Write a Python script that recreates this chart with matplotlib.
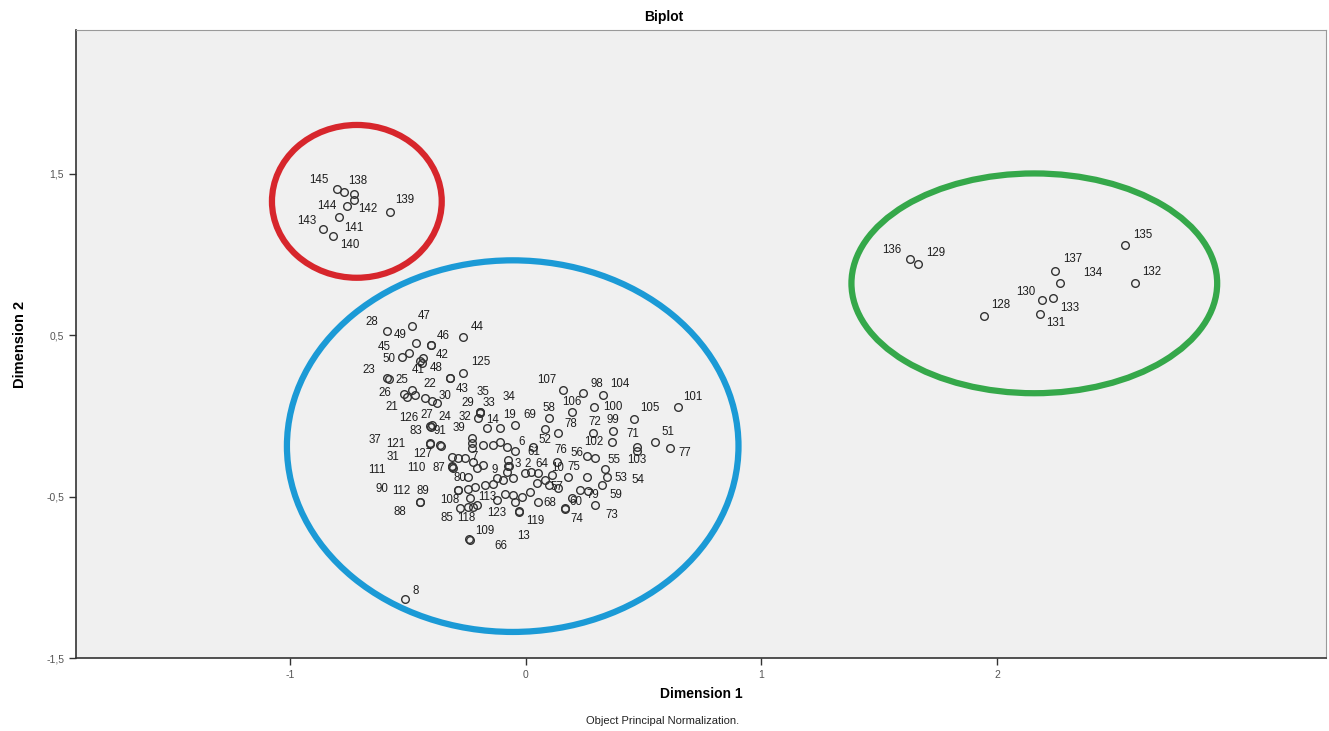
import matplotlib
matplotlib.use("Agg")
import matplotlib.pyplot as plt
from matplotlib.patches import Ellipse

plt.rcParams['font.family'] = ['Liberation Sans', 'DejaVu Sans']

# ---------------- data (object scores) ----------------
labels = [
    # red group
    "145", "138", "142", "144", "139", "141", "143", "140",
    # green group
    "136", "129", "135", "137", "134", "132", "130", "133", "128", "131",
    # blue group
    "28", "49", "47", "46", "44", "45", "50", "42", "48", "41", "125", "23", "25",
    "22", "43", "26", "30", "21", "24", "27", "126", "32", "83", "91", "39", "121",
    "37", "31", "127", "111", "110", "87", "90", "112", "89", "88", "108", "85",
    "118", "80", "109", "66", "8", "123", "113", "119", "13", "68", "60", "74",
    "73", "79", "59", "53", "54", "57", "10", "75", "64", "2", "3", "6", "52", "61",
    "76", "56", "55", "102", "71", "103", "51", "77", "101", "105", "100", "99",
    "72", "104", "98", "107", "106", "58", "78", "69", "19", "14", "34", "33",
    "29", "35", "7", "9",
]
dim1 = [
    -0.801, -0.729, -0.729, -0.758, -0.576, -0.792, -0.860, -0.818,
    1.631, 1.665, 2.542, 2.246, 2.267, 2.585, 2.191, 2.237, 1.945, 2.183,
    -0.589, -0.466, -0.483, -0.403, -0.267, -0.525, -0.496, -0.436, -0.441, -0.449, -0.267, -0.589, -0.581,
    -0.483, -0.322, -0.517, -0.398, -0.504, -0.398, -0.407, -0.403, -0.203, -0.407, -0.364, -0.229, -0.407,
    -0.360, -0.314, -0.288, -0.314, -0.314, -0.310, -0.288, -0.288, -0.449, -0.449, -0.237, -0.246,
    -0.225, -0.246, -0.242, -0.237, -0.513, -0.208, -0.089, -0.030, -0.030, 0.051, 0.165, 0.165,
    0.292, 0.229, 0.322, 0.343, 0.335, 0.081, 0.110, 0.178, 0.021, -0.004, -0.076, -0.081, 0.030, -0.047,
    0.131, 0.258, 0.292, 0.364, 0.470, 0.470, 0.547, 0.610, 0.648, 0.458, 0.288, 0.369,
    0.284, 0.326, 0.242, 0.157, 0.195, 0.097, 0.136, -0.047, -0.110, -0.165, -0.195, -0.195,
    -0.195, -0.322, -0.258, -0.182,
]
dim2 = [
    1.404, 1.373, 1.336, 1.299, 1.262, 1.231, 1.156, 1.113,
    0.971, 0.940, 1.057, 0.896, 0.822, 0.822, 0.717, 0.729, 0.618, 0.630,
    0.525, 0.450, 0.556, 0.438, 0.488, 0.364, 0.389, 0.358, 0.327, 0.339, 0.265, 0.234, 0.228,
    0.159, 0.234, 0.135, 0.091, 0.116, -0.057, -0.063, -0.070, -0.014, -0.169, -0.181, -0.138, -0.175,
    -0.187, -0.255, -0.262, -0.317, -0.311, -0.320, -0.460, -0.460, -0.534, -0.534, -0.509, -0.565,
    -0.565, -0.379, -0.763, -0.769, -1.135, -0.553, -0.485, -0.590, -0.596, -0.534, -0.571, -0.577,
    -0.553, -0.460, -0.429, -0.379, -0.330, -0.398, -0.367, -0.379, -0.348, -0.355, -0.311, -0.194, -0.194, -0.218,
    -0.286, -0.249, -0.262, -0.163, -0.194, -0.218, -0.163, -0.200, 0.054, -0.020, 0.054, -0.094,
    -0.107, 0.128, 0.141, 0.159, 0.023, -0.014, -0.107, -0.057, -0.076, -0.076, 0.023, 0.023,
    0.017, 0.234, -0.262, -0.305,
]

# objects whose labels are hidden by overlap
hidden_dim1 = [
    -0.771, -0.400,
    -0.182, -0.140, -0.110, -0.076, -0.072, -0.081, -0.055, -0.097, -0.123, -0.140, -0.174, -0.216,
    -0.208, -0.225, 0.017, 0.097, 0.047, 0.136, 0.263, 0.195, -0.123, -0.055, -0.428, -0.377, -0.470,
    -0.229, -0.229, -0.246, -0.280, 0.081, 0.258, 0.051, -0.017, -0.047,
]
hidden_dim2 = [
    1.385, 0.440,
    -0.181, -0.181, -0.163, -0.274, -0.311, -0.348, -0.385, -0.398, -0.385, -0.423, -0.429, -0.441,
    -0.324, -0.286, -0.472, -0.429, -0.416, -0.447, -0.466, -0.509, -0.522, -0.491, 0.110, 0.079, 0.128,
    -0.169, -0.200, -0.454, -0.571, -0.082, -0.379, -0.355, -0.503, -0.534,
]

# ---------------- label placement (pixels, right / down) ----------------
default_offset = (12, -10)
label_offsets = {
    "145": (-18, -9), "138": (4, -13), "142": (14, 9), "144": (-20, 0), "139": (15, -12),
    "141": (15, 11), "143": (-16, -8), "140": (17, 9),
    "136": (-18, -9), "129": (17, -11), "135": (18, -10), "137": (17, -12), "134": (33, -10),
    "132": (17, -11), "130": (-17, -8), "133": (17, 10), "128": (16, -11), "131": (15, 9),
    "28": (-15, -9), "49": (-16, -8), "47": (12, -10), "46": (13, -9), "44": (15, -10),
    "45": (-18, -10), "50": (-20, 6), "42": (19, -3), "48": (14, 5), "41": (-2, 9),
    "125": (18, -11), "23": (-18, -8), "25": (13, 1), "22": (18, -6), "43": (12, 11),
    "26": (-19, -1), "30": (13, -5), "21": (-15, 10), "24": (13, -8), "27": (-3, -11),
    "126": (-22, -9), "32": (-13, -1), "83": (-14, -12), "91": (0, -14), "39": (-13, -10),
    "121": (-34, 0), "37": (-66, -6), "31": (-59, 0), "127": (-35, -4), "111": (-75, 3),
    "110": (-35, 2), "87": (-14, 0), "90": (-76, -1), "112": (-56, 1), "89": (3, -11),
    "88": (-20, 10), "108": (-20, 2), "85": (-21, 11), "118": (-6, 11), "80": (-8, 1),
    "109": (16, -8), "66": (31, 6), "8": (11, -8), "123": (20, 8), "113": (-17, 3),
    "119": (17, 10), "13": (5, 24), "68": (12, 1), "60": (11, -6), "74": (12, 10),
    "73": (17, 10), "79": (13, 5), "59": (14, 10), "53": (14, 1), "54": (33, 11),
    "57": (12, 7), "10": (6, -7), "75": (6, -10), "64": (11, -8), "2": (3, -9),
    "3": (10, -2), "6": (15, -5), "52": (12, -7), "61": (19, 1), "76": (4, -12),
    "56": (-10, -3), "55": (19, 2), "102": (-18, 0), "71": (-4, -13), "103": (0, 9),
    "51": (13, -10), "77": (15, 5), "101": (14, -10), "105": (16, -11), "100": (19, 0),
    "99": (0, -11), "72": (2, -11), "104": (17, -11), "98": (14, -9), "107": (-16, -10),
    "106": (0, -10), "58": (0, -10), "78": (13, -9), "69": (15, -10), "19": (10, -13),
    "14": (6, -8), "34": (29, -15), "33": (9, -9), "29": (-12, -10), "35": (33, 14),
    "7": (10, -1), "9": (12, 5),
}

x_ticks = [-1, 0, 1, 2]
x_ticklabels = ["-1", "0", "1", "2"]
y_ticks = [-1.5, -0.5, 0.5, 1.5]
y_ticklabels = ["-1,5", "-0,5", "0,5", "1,5"]

# ---------------- figure ----------------
W, H = 1329, 731
fig = plt.figure(figsize=(W / 100, H / 100), dpi=100)
fig.patch.set_facecolor("white")
ax = fig.add_axes([76 / W, (H - 658) / H, (1326 - 76) / W, (658 - 30) / H])
ax.set_facecolor("#f0f0f0")

ax.set_xlim(-1.907, 3.394)
ax.set_ylim(-1.5, 2.392)

mk = dict(marker="o", linestyle="none", markersize=5.5, markerfacecolor="none",
          markeredgecolor="#333333", markeredgewidth=1.0)
ax.plot(hidden_dim1, hidden_dim2, **mk)
ax.plot(dim1, dim2, **mk)

for lab, x, y in zip(labels, dim1, dim2):
    dx, dy = label_offsets.get(lab, default_offset)
    ax.annotate(lab, (x, y), xytext=(dx, -dy), textcoords="offset pixels",
                ha="center", va="center", fontsize=8.3, color="#1e1e1e")

# cluster outlines
ax.add_patch(Ellipse((-0.716, 1.330), 0.720, 0.947, fill=False, edgecolor="#d7262c", linewidth=4.5))
ax.add_patch(Ellipse((-0.055, -0.187), 1.915, 2.303, fill=False, edgecolor="#1b9ad6", linewidth=4.5))
ax.add_patch(Ellipse((2.157, 0.822), 1.551, 1.362, fill=False, edgecolor="#35a84a", linewidth=4.5))

ax.set_xticks(x_ticks)
ax.set_xticklabels(x_ticklabels)
ax.set_yticks(y_ticks)
ax.set_yticklabels(y_ticklabels)
ax.tick_params(axis="both", direction="out", length=5, width=1, color="#333333",
               labelsize=7.5, labelcolor="#555555")

for side in ("left", "bottom"):
    ax.spines[side].set_color("#333333")
    ax.spines[side].set_linewidth(1.2)
for side in ("top", "right"):
    ax.spines[side].set_color("#9a9a9a")
    ax.spines[side].set_linewidth(0.8)

ax.set_xlabel("Dimension 1", fontsize=10, fontweight="bold", labelpad=5)
ax.set_ylabel("Dimension 2", fontsize=10.5, fontweight="bold", labelpad=14)
fig.text(664 / W, 1 - 17 / H, "Biplot", ha="center", va="center", fontsize=10, fontweight="bold")
fig.text(663 / W, 1 - 721 / H, "Object Principal Normalization.", ha="center", va="center",
         fontsize=8, color="#222222")

fig.savefig("out.png", dpi=100, facecolor="white")
